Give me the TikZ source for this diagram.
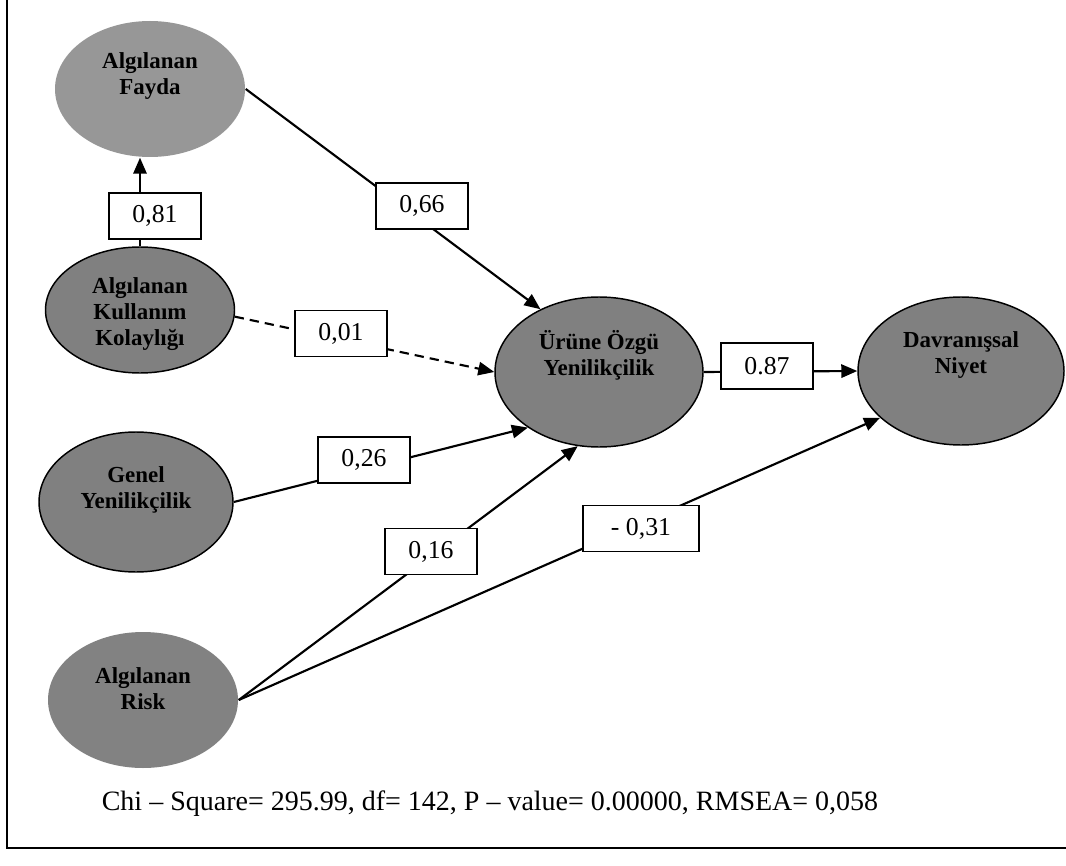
\documentclass[tikz,border=0pt]{standalone}
\usepackage{fontspec}
\setmainfont{Liberation Serif}
\usetikzlibrary{arrows.meta,shapes.geometric}
\definecolor{latentgray}{HTML}{808080}
\definecolor{paleGray}{HTML}{979797}
\definecolor{riskgray}{HTML}{828282}
\begin{document}
\begin{tikzpicture}[x=0.75pt,y=-0.75pt,
  latent/.style={ellipse, draw=black, line width=1.1pt, fill=latentgray, inner sep=0pt},
  lbl/.style={font=\fontsize{17.2}{19.5}\selectfont\bfseries, align=center, text=black},
  conn/.style={line width=1.6pt, -{Triangle[length=12pt,width=10pt]}},
  dashline/.style={dash pattern=on 7pt off 4.5pt},
  coef/.style={draw=black, line width=1.1pt, fill=white, inner sep=0pt,
    font=\fontsize{19.3}{22}\selectfont, minimum width=69pt, minimum height=34.5pt},
  fitline/.style={font=\fontsize{21}{24}\selectfont}
]
\useasboundingbox (0,0) rectangle (1066,866);

% frame (left and bottom sides)
\draw[line width=1.8pt] (7,0) -- (7,848) -- (1066,848);

% latent variables
\node[latent, draw=none, fill=paleGray, minimum width=142.5pt, minimum height=102pt,
  label={[lbl,yshift=9.75pt]center:Algılanan\\Fayda}] (fayda) at (150,89) {};
\node[latent, minimum width=141.75pt, minimum height=94.5pt,
  label={[lbl,yshift=-3pt]center:Algılanan\\Kullanım\\Kolaylığı}] (kullanim) at (140,310) {};
\node[latent, minimum width=145.5pt, minimum height=105pt,
  label={[lbl,yshift=9pt]center:Genel\\Yenilikçilik}] (genel) at (136,502) {};
\node[latent, draw=none, fill=riskgray, minimum width=142.5pt, minimum height=102pt,
  label={[lbl,yshift=8.25pt]center:Algılanan\\Risk}] (risk) at (143,700) {};
\node[latent, minimum width=156pt, minimum height=112.5pt,
  label={[lbl,yshift=12.75pt]center:Ürüne Özgü\\Yenilikçilik}] (urune) at (599,372) {};
\node[latent, minimum width=154.5pt, minimum height=111pt,
  label={[lbl,yshift=12pt]center:Davranışsal\\Niyet}] (niyet) at (961,371) {};

% paths
\draw[conn] (kullanim.north) -- (kullanim.north |- fayda.south);
\draw[conn] (fayda.east) -- (urune.133);
\draw[conn, dashline] (kullanim.-4) -- (urune.west);
\draw[conn] (genel.east) -- (urune.218);
\draw[conn] (risk.east) -- (urune.254);
\draw[conn] (risk.east) -- (niyet.210);
\draw[conn] (urune.east) -- (niyet.west);

% path coefficients
\node[coef] (c81) at (155,216) {0,81};
\node[coef] (c66) at (422,206) {0,66};
\node[coef] (c01) at (341,333.5) {0,01};
\node[coef] (c87) at (767,366) {0.87};
\node[coef] (c26) at (364,460) {0,26};
\node[coef] (c16) at (431,551.5) {0,16};
\node[coef, minimum width=87pt] (c31) at (641,528.5) {- 0,31};

% fit statistics
\node[fitline] (fit) at (490,804) {Chi – Square= 295.99, df= 142, P – value= 0.00000, RMSEA= 0,058};
\end{tikzpicture}
\end{document}
